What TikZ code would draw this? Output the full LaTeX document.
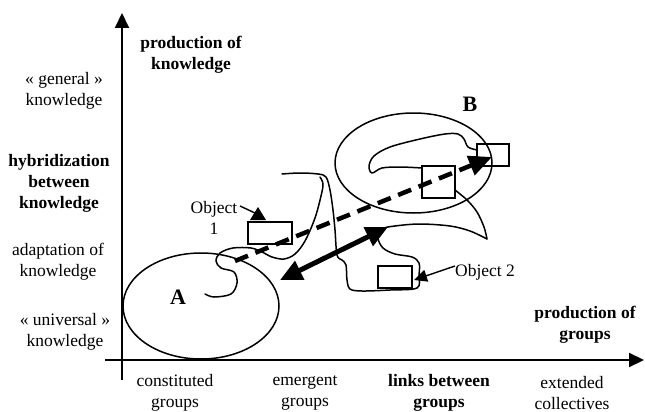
\documentclass[tikz,border=0pt]{standalone}
\usepackage{fontspec}
\setmainfont{Liberation Serif}
\usetikzlibrary{arrows.meta,shapes.geometric}
\begin{document}
\begin{tikzpicture}[x=1pt,y=-1pt,
  lbl/.style={align=center,inner sep=0pt,font=\fontsize{17.5}{21}\selectfont},
  blbl/.style={lbl,font=\fontsize{17.5}{21}\selectfont\bfseries},
  big/.style={inner sep=0pt,font=\fontsize{22}{24}\selectfont\bfseries},
  axis/.style={line width=2pt,-{Triangle[length=15pt,width=14pt]}},
  blob/.style={draw,ellipse,line width=1.5pt,inner sep=0pt},
  objbox/.style={draw,rectangle,line width=1.5pt,inner sep=0pt},
  free/.style={line width=1.5pt,line join=round,line cap=round},
  dasharrow/.style={line width=4.5pt,dash pattern=on 14pt off 8pt,-{Triangle[length=23pt,width=20pt]}},
  dblarrow/.style={line width=5pt,{Triangle[length=22pt,width=20pt]}-{Triangle[length=22pt,width=20pt]}},
  thin/.style={line width=1.4pt,-{Triangle[length=13pt,width=12pt]}}]
\useasboundingbox (0,0) rectangle (645,412);

% axes
\coordinate (yb) at (122,380);
\coordinate (yt) at (122,13);
\coordinate (xl) at (105,360);
\coordinate (xr) at (644,360);
\draw[axis] (yb) -- (yt);
\draw[axis] (xl) -- (xr);

% axis labels
\node[blbl] (pk) at (191,55) {production of\\knowledge};
\node[lbl] (gk) at (64,91) {« general »\\knowledge};
\node[blbl] (hk) at (59,183) {hybridization\\between\\knowledge};
\node[lbl] (ak) at (58,262) {adaptation of\\knowledge};
\node[lbl] (uk) at (65,332) {« universal »\\knowledge};
\node[lbl] (cg) at (175,393) {constituted\\groups};
\node[lbl] (eg) at (305,393) {emergent\\groups};
\node[blbl] (lg) at (439,393) {links between\\groups};
\node[lbl] (ec) at (572,393) {extended\\collectives};
\node[blbl] (pg) at (585,325) {production of\\groups};

% ellipses
\node[blob,minimum width=156pt,minimum height=106pt] (A) at (201,306) {};
\node[blob,minimum width=157pt,minimum height=100pt] (B) at (413.5,163) {};
\node[big] (Alab) at (178,297) {A};
\node[big] (Blab) at (470,104) {B};

% free-form shapes
\draw[free] plot[smooth,tension=0.55] coordinates {(205,294) (214,297) (231,294) (237,283) (234,272) (221,268) (216,261) (220,253) (233,248) (251,248) (262,252) (272,257) (284,259) (295,254) (305,241) (315,218) (321,196) (323,184) (320,177)};
\draw[free] plot[smooth,tension=0.55] coordinates {(282,174) (300,173) (318,174) (326,177) (330,190) (333,210) (335,230) (337,255) (342,260) (346,265) (347,280) (350,289) (362,291) (390,290) (417,288) (419,275) (419,263) (412,257) (395,254) (383,248) (378,238) (382,229) (395,226) (420,224) (450,226) (470,231) (487,239)};
\draw[free] plot[smooth,tension=0.55] coordinates {(487,239) (484,227) (477,212) (467,200) (455,190)};
\draw[free] plot[smooth,tension=0.55] coordinates {(422,168) (400,167) (382,168) (372,173) (369,166) (374,156) (390,147) (420,139) (445,134) (458,134) (464,139) (468,147) (477,150)};

% object boxes
\node[objbox,minimum width=44pt,minimum height=22pt] (o1) at (270,233) {};
\node[objbox,minimum width=33pt,minimum height=32pt] (bb) at (438.5,182) {};
\node[objbox,minimum width=32pt,minimum height=22pt] (tr) at (493,155) {};
\node[objbox,minimum width=34pt,minimum height=22pt] (o2) at (395,277) {};

% arrows
\coordinate (dS) at (235,261);
\coordinate (dE) at (492,157);
\draw[dasharrow] (dS) -- (dE);
\coordinate (dA) at (280,280);
\coordinate (dB) at (388,227);
\draw[dblarrow] (dA) -- (dB);

% object labels
\node[lbl] (o1t) at (214,218) {Object\\1};
\node[lbl,anchor=west] (o2t) at (455,272) {Object 2};
\coordinate (o1a) at (240,206);
\coordinate (o1b) at (255,213);
\draw[line width=1.4pt] (o1a) -- (o1b);
\fill (258,207) -- (250,220) -- (266,220) -- cycle;
\coordinate (o2a) at (455,266);
\coordinate (o2b) at (414,280);
\draw[thin] (o2a) -- (o2b);
\end{tikzpicture}
\end{document}
